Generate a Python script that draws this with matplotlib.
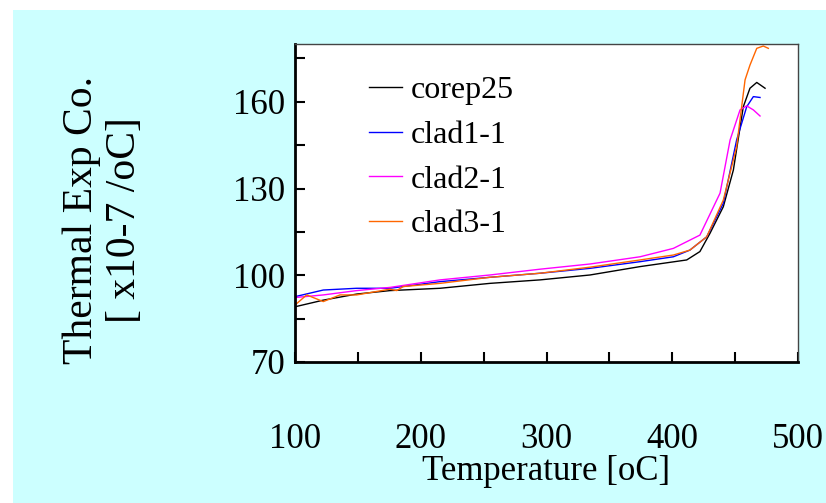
import matplotlib.pyplot as plt
from matplotlib.patches import Rectangle

plt.rcParams['font.family'] = ['Liberation Serif', 'DejaVu Serif']

# Thermal expansion curves
t_core = [100, 122.5, 149, 175.5, 215.3, 255, 294.8, 334.6, 374.4, 411.5, 422,
          430, 440.6, 448.6, 456.5, 461.8, 467.2, 473.8]
a_core = [89.1, 91.4, 93.5, 94.7, 95.5, 97.2, 98.4, 100.1, 103.0, 105.3, 108.2,
          114.5, 123.7, 136.4, 158.3, 164.7, 166.7, 164.7]

t_clad1 = [100, 122.5, 149, 175.5, 215.3, 255, 294.8, 334.6, 374.4, 400.9, 414,
           427.4, 440.6, 451.2, 459.2, 464.5, 469.8]
a_clad1 = [92.6, 94.9, 95.5, 95.5, 97.8, 99.3, 100.7, 102.4, 104.7, 106.4, 108.7,
           113.3, 124.9, 146.8, 158.3, 161.8, 161.5]

t_clad2 = [100, 122.5, 149, 175.5, 215.3, 255, 294.8, 334.6, 374.4, 400.9, 422,
           438, 446, 453.9, 459.2, 464.5, 469.8]
a_clad2 = [92.3, 93.2, 94.7, 95.8, 98.4, 100.1, 102.1, 103.9, 106.4, 109.3, 113.9,
           128.4, 146.8, 157.2, 158.6, 157.2, 155.1]

t_clad3 = [100, 109.3, 122.5, 135.8, 149, 175.5, 180.9, 186, 215.3, 255, 294.8,
           334.6, 374.4, 400.9, 414, 427.4, 440.6, 451.2, 457.9, 461.8, 467.2,
           472.4, 476.4]
a_clad3 = [89.7, 93.2, 90.9, 93.2, 93.2, 95.2, 94.7, 96.1, 97.2, 99.3, 100.7,
           102.8, 105.3, 107.0, 108.7, 113.3, 126.0, 144.5, 167.6, 172.7, 178.5,
           179.3, 178.5]

fig = plt.figure(figsize=(8.26, 5.03), dpi=100)
fig.patches.append(Rectangle((13 / 826, 0), 1, 1 - 10 / 503, transform=fig.transFigure,
                             facecolor='#CCFFFF', edgecolor='none', zorder=-10))
ax = fig.add_axes([295 / 826, 1 - 362 / 503, 503 / 826, 318 / 503])
ax.set_facecolor('white')

ax.plot(t_core, a_core, color='black', lw=1, label='corep25')
ax.plot(t_clad1, a_clad1, color='#0000FF', lw=1, label='clad1-1')
ax.plot(t_clad2, a_clad2, color='#FF00FF', lw=1, label='clad2-1')
ax.plot(t_clad3, a_clad3, color='#FF6600', lw=1, label='clad3-1')

ax.set_xlim(100, 500)
ax.set_ylim(70, 180)
ax.set_xticks(range(100, 501, 100))
ax.set_xticks(range(100, 501, 50), minor=True)
ax.set_yticks(range(70, 161, 30))
ax.set_yticks(range(70, 181, 15), minor=True)
ax.tick_params(which='both', direction='in', labelsize=25, width=1.5, length=7)
ax.tick_params(axis='x', pad=44)
ax.tick_params(axis='y', pad=7)
for s in ['top', 'right']:
    ax.spines[s].set_color('#444444')
    ax.spines[s].set_linewidth(1)
for s in ['left', 'bottom']:
    ax.spines[s].set_linewidth(2)

ax.set_xlabel('Temperature [oC]', fontsize=25, labelpad=-1)
ax.set_ylabel('Thermal Exp Co.\n[ x10-7 /oC]', fontsize=30, linespacing=1.15)
ax.yaxis.set_label_coords(-0.30, 0.445)

ax.legend(loc='upper left', bbox_to_anchor=(0.147, 0.90), frameon=False, fontsize=23,
          borderpad=0, borderaxespad=0, handlelength=1.05, handletextpad=0.25,
          labelspacing=0.48)

fig.savefig('out.png', dpi=100)
